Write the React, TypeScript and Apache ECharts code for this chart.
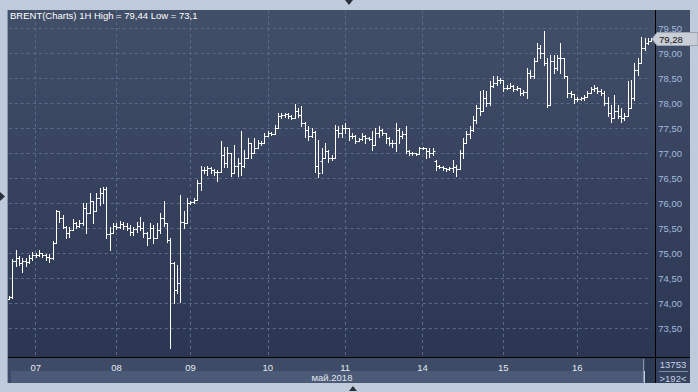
import React, { useEffect, useRef } from "react";
import * as echarts from "echarts";

// ---- data ----
const dayLabels = ["04", "07", "08", "09", "10", "11", "14", "15", "16"];
const barsPerDay = [8, 24, 22, 23, 23, 23, 24, 22, 23];

const opens = [
  74.08, 74.12, 74.85, 74.90, 74.80, 74.85, 74.82, 74.90,
  74.97, 74.95, 75.00, 74.96, 74.92, 74.90, 75.20, 75.84, 75.70, 75.52, 75.40, 75.45, 75.60, 75.55, 75.60, 75.90, 75.80, 76.05, 75.85, 76.10, 76.20, 76.28, 75.38, 75.40,
  75.55, 75.52, 75.58, 75.55, 75.50, 75.42, 75.48, 75.55, 75.50, 75.40, 75.30, 75.50, 75.30, 75.45, 75.70, 75.60, 75.26, 74.80, 74.26, 74.40, 75.62, 75.60,
  76.00, 76.02, 76.06, 76.40, 76.65, 76.65, 76.70, 76.65, 76.62, 76.62, 76.95, 76.80, 77.00, 76.60, 76.75, 76.80, 76.75, 76.90, 77.20, 77.00, 77.10, 77.20, 77.20,
  77.35, 77.40, 77.38, 77.50, 77.75, 77.76, 77.78, 77.75, 77.70, 77.85, 77.76, 77.60, 77.45, 77.35, 77.42, 76.75, 76.85, 76.90, 77.05, 76.90, 76.90, 77.45, 77.40,
  77.50, 77.50, 77.35, 77.35, 77.25, 77.28, 77.35, 77.30, 77.28, 77.15, 77.40, 77.45, 77.40, 77.30, 77.20, 77.20, 77.45, 77.35, 77.38, 77.05, 77.00, 77.00, 76.98,
  77.10, 77.10, 77.05, 77.00, 76.85, 76.75, 76.72, 76.70, 76.68, 76.70, 76.72, 76.68, 77.00, 77.20, 77.38, 77.45, 77.65, 77.90, 77.85, 78.10, 78.00, 78.35, 78.40, 78.45,
  78.45, 78.30, 78.30, 78.35, 78.28, 78.30, 78.20, 78.22, 78.60, 78.55, 78.85, 79.10, 79.00, 78.80, 77.95, 78.85, 78.70, 78.90, 78.90, 78.55, 78.20, 78.18,
  78.08, 78.08, 78.10, 78.12, 78.20, 78.28, 78.30, 78.25, 78.20, 78.00, 77.80, 77.70, 77.85, 77.75, 77.70, 77.75, 77.90, 78.10, 78.65, 78.80, 79.10, 79.20, 79.25,
];

const highs = [
  74.14, 74.87, 75.06, 74.93, 74.90, 74.90, 74.96, 75.02,
  75.00, 75.06, 75.00, 74.98, 74.98, 75.24, 75.86, 75.84, 75.76, 75.54, 75.52, 75.68, 75.62, 75.66, 76.00, 76.00, 76.20, 76.05, 76.20, 76.30, 76.32, 76.32, 75.52, 75.60,
  75.60, 75.64, 75.62, 75.60, 75.56, 75.52, 75.62, 75.72, 75.62, 75.42, 75.60, 75.56, 75.60, 75.80, 76.05, 75.60, 75.30, 74.82, 74.76, 76.16, 75.84, 76.10,
  76.03, 76.10, 76.46, 76.74, 76.72, 76.74, 76.72, 76.68, 76.66, 77.23, 77.12, 77.12, 77.00, 77.16, 76.90, 77.43, 77.06, 77.30, 77.20, 77.30, 77.26, 77.23, 77.40,
  77.43, 77.42, 77.56, 77.80, 77.80, 77.80, 77.80, 77.76, 77.98, 77.90, 77.93, 77.63, 77.53, 77.50, 77.43, 77.26, 77.10, 77.20, 77.06, 76.96, 77.56, 77.53, 77.56,
  77.60, 77.50, 77.40, 77.36, 77.30, 77.40, 77.36, 77.32, 77.43, 77.50, 77.53, 77.48, 77.40, 77.33, 77.26, 77.60, 77.50, 77.43, 77.53, 77.06, 77.02, 77.00, 77.13,
  77.12, 77.10, 77.10, 77.10, 76.86, 76.76, 76.74, 76.70, 76.72, 76.86, 76.76, 77.06, 77.30, 77.43, 77.53, 77.73, 77.96, 78.23, 78.26, 78.23, 78.43, 78.53, 78.53, 78.50,
  78.46, 78.36, 78.40, 78.36, 78.34, 78.30, 78.26, 78.70, 78.66, 78.90, 79.20, 79.16, 79.44, 78.90, 78.95, 78.96, 78.96, 79.20, 78.90, 78.55, 78.23, 78.18,
  78.13, 78.12, 78.16, 78.23, 78.33, 78.36, 78.32, 78.28, 78.23, 78.13, 77.96, 78.16, 77.96, 77.90, 77.80, 78.43, 78.46, 78.80, 78.90, 79.33, 79.30, 79.30, 79.30,
];

const lows = [
  74.08, 74.10, 74.73, 74.76, 74.62, 74.74, 74.80, 74.86,
  74.92, 74.94, 74.92, 74.86, 74.81, 74.88, 75.20, 75.62, 75.50, 75.30, 75.32, 75.45, 75.50, 75.52, 75.56, 75.40, 75.80, 75.60, 75.85, 75.96, 76.00, 75.30, 75.06, 75.40,
  75.48, 75.50, 75.48, 75.46, 75.36, 75.36, 75.42, 75.46, 75.32, 75.16, 75.30, 75.20, 75.30, 75.40, 75.53, 75.22, 73.10, 74.00, 74.20, 74.02, 75.50, 75.60,
  75.98, 76.00, 76.06, 76.26, 76.60, 76.56, 76.60, 76.56, 76.43, 76.62, 76.72, 76.72, 76.53, 76.60, 76.53, 76.56, 76.72, 76.90, 76.90, 77.00, 77.10, 77.16, 77.20,
  77.34, 77.36, 77.38, 77.50, 77.70, 77.72, 77.70, 77.68, 77.70, 77.72, 77.53, 77.33, 77.26, 77.33, 76.63, 76.52, 76.60, 76.90, 76.83, 76.86, 76.90, 77.33, 77.33,
  77.40, 77.26, 77.30, 77.20, 77.24, 77.26, 77.20, 77.26, 77.06, 77.15, 77.33, 77.36, 77.20, 77.16, 77.13, 77.03, 77.20, 77.30, 77.00, 76.95, 76.95, 76.95, 76.98,
  77.08, 76.90, 76.92, 76.96, 76.66, 76.70, 76.66, 76.64, 76.66, 76.63, 76.53, 76.68, 76.90, 77.20, 77.30, 77.43, 77.60, 77.76, 77.85, 77.93, 77.96, 78.33, 78.36, 78.40,
  78.23, 78.28, 78.30, 78.23, 78.26, 78.16, 78.16, 78.10, 78.50, 78.50, 78.85, 78.90, 78.76, 77.92, 77.95, 78.60, 78.65, 78.60, 78.50, 78.13, 78.13, 78.00,
  78.03, 78.06, 78.06, 78.12, 78.20, 78.23, 78.20, 78.16, 77.96, 77.73, 77.63, 77.70, 77.70, 77.63, 77.66, 77.75, 77.90, 78.06, 78.56, 78.80, 79.06, 79.18, 79.24,
];

const closes = [
  74.12, 74.85, 74.90, 74.80, 74.85, 74.82, 74.90, 74.97,
  74.95, 75.00, 74.96, 74.92, 74.90, 75.20, 75.84, 75.70, 75.52, 75.40, 75.45, 75.60, 75.55, 75.60, 75.90, 75.80, 76.05, 75.85, 76.10, 76.20, 76.28, 75.38, 75.40, 75.55,
  75.52, 75.58, 75.55, 75.50, 75.42, 75.48, 75.55, 75.50, 75.40, 75.30, 75.50, 75.30, 75.45, 75.70, 75.60, 75.26, 74.80, 74.26, 74.40, 75.62, 75.60, 76.00,
  76.02, 76.06, 76.40, 76.65, 76.65, 76.70, 76.65, 76.62, 76.62, 76.95, 76.80, 77.00, 76.60, 76.75, 76.80, 76.75, 76.90, 77.20, 77.00, 77.10, 77.20, 77.20, 77.35,
  77.40, 77.38, 77.50, 77.75, 77.76, 77.78, 77.75, 77.70, 77.85, 77.76, 77.60, 77.45, 77.35, 77.42, 76.75, 76.60, 76.90, 77.05, 76.90, 76.90, 77.45, 77.40, 77.50,
  77.50, 77.35, 77.35, 77.25, 77.28, 77.35, 77.30, 77.28, 77.15, 77.40, 77.45, 77.40, 77.30, 77.20, 77.20, 77.45, 77.35, 77.38, 77.05, 77.00, 77.00, 76.98, 77.10,
  77.10, 77.05, 77.00, 77.05, 76.75, 76.72, 76.70, 76.68, 76.70, 76.72, 76.68, 77.00, 77.20, 77.38, 77.45, 77.65, 77.90, 77.85, 78.10, 78.00, 78.35, 78.40, 78.45, 78.45,
  78.30, 78.30, 78.35, 78.28, 78.30, 78.20, 78.22, 78.60, 78.55, 78.85, 79.10, 79.00, 78.80, 77.95, 78.85, 78.70, 78.90, 78.90, 78.55, 78.20, 78.18, 78.08,
  78.08, 78.10, 78.12, 78.20, 78.28, 78.30, 78.25, 78.20, 78.00, 77.80, 77.70, 77.85, 77.75, 77.70, 77.75, 77.90, 78.10, 78.65, 78.80, 79.10, 79.20, 79.25, 79.28,
];

const yTickValues = [73.5, 74.0, 74.5, 75.0, 75.5, 76.0, 76.5, 77.0, 77.5, 78.0, 78.5, 79.0, 79.5];
const titleText = "BRENT(Charts) 1H High = 79,44 Low = 73,1";
const monthLabel = "май.2018";
const volumeLabel = "13753";
const countLabel = ">192<";

// ---- derived ----
const categories: string[] = [];
const dayStartIdx = new Set<number>();
dayLabels.forEach((d, di) => {
  for (let h = 0; h < barsPerDay[di]; h++) {
    if (h === 0 && categories.length > 0) dayStartIdx.add(categories.length);
    categories.push(d + " " + h);
  }
});
const ohlc = closes.map((c, i) => [i, opens[i], highs[i], lows[i], c]);
const lastClose = closes[closes.length - 1];
const fmt = (v: number) => v.toFixed(2).replace(".", ",");

const FONT = "'Liberation Sans', Arial, sans-serif";

export default function App() {
  const ref = useRef<HTMLDivElement>(null);
  useEffect(() => {
    if (!ref.current) return;
    const chart = echarts.init(ref.current, undefined, { renderer: "svg" });
    const option: any = {
      animation: false,
      backgroundColor: "#bfcbdb",
      grid: { left: 8.8, right: 46.7, top: 10, bottom: 35, containLabel: false },
      xAxis: {
        type: "category",
        data: categories,
        boundaryGap: false,
        axisLine: { show: false },
        axisTick: { show: false },
        axisLabel: {
          interval: (i: number) => dayStartIdx.has(i),
          formatter: (v: string) => v.split(" ")[0],
          color: "#e4e9f1",
          fontSize: 9.5,
          fontFamily: FONT,
          margin: 5,
          hideOverlap: false,
        },
        splitLine: {
          show: true,
          interval: (i: number) => dayStartIdx.has(i),
          lineStyle: { color: "#5b6a89", width: 1, type: [3, 3] },
        },
      },
      yAxis: {
        type: "value",
        position: "right",
        min: 72.92,
        max: 79.86,
        axisLine: { show: false },
        axisTick: { show: false, customValues: yTickValues },
        axisLabel: {
          customValues: yTickValues,
          formatter: (v: number) => fmt(v),
          color: "#a3bbdf",
          fontSize: 9.5,
          fontFamily: FONT,
          margin: 7,
          align: "left",
        },
        splitLine: { show: true, lineStyle: { color: "#5b6a89", width: 1, type: [3, 3] } },
      },
      series: [
        {
          type: "custom",
          data: ohlc,
          dimensions: ["i", "open", "high", "low", "close"],
          encode: { x: 0, y: [1, 2, 3, 4] },
          clip: false,
          renderItem: (params: any, api: any) => {
            const i = api.value(0);
            const pH = api.coord([i, api.value(2)]);
            const yL = api.coord([i, api.value(3)])[1];
            const yO = api.coord([i, api.value(1)])[1];
            const yC = api.coord([i, api.value(4)])[1];
            const px = Math.round(pH[0]) + 0.5;
            const style = { stroke: "#ffffff", lineWidth: 1, fill: null };
            const yo = Math.round(yO) + 0.5;
            const yc = Math.round(yC) + 0.5;
            return {
              type: "group",
              children: [
                { type: "line", shape: { x1: px, y1: Math.round(pH[1]), x2: px, y2: Math.round(yL) + 1 }, style },
                { type: "line", shape: { x1: px - 2, y1: yo, x2: px, y2: yo }, style },
                { type: "line", shape: { x1: px, y1: yc, x2: px + 2, y2: yc }, style },
              ],
            };
          },
        },
      ],
    };
    chart.setOption(option);
    const yPrice = chart.convertToPixel({ yAxisIndex: 0 }, lastClose) as number;
    const yp = Math.round(yPrice);
    chart.setOption({
      graphic: [
        {
          type: "rect", z: -100, silent: true,
          shape: { x: 8, y: 10, width: 682, height: 347 },
          style: {
            fill: new echarts.graphic.LinearGradient(0, 0, 0, 1, [
              { offset: 0, color: "#424f69" },
              { offset: 1, color: "#2b3652" },
            ]),
          },
        },
        { type: "rect", z: -100, silent: true, shape: { x: 8, y: 358, width: 647, height: 13 }, style: { fill: "#3d4b66" } },
        { type: "rect", z: -100, silent: true, shape: { x: 11, y: 371, width: 633, height: 12 }, style: { fill: "#4b5a77" } },
        { type: "rect", z: -100, silent: true, shape: { x: 8, y: 371, width: 3, height: 12 }, style: { fill: "#3d4b66" } },
        { type: "rect", z: -100, silent: true, shape: { x: 645, y: 358, width: 10, height: 25 }, style: { fill: "#2e3a53" } },
        { type: "line", z: 100, silent: true, shape: { x1: 643.5, y1: 359, x2: 643.5, y2: 382 }, style: { stroke: "#8794aa", lineWidth: 1 } },
        { type: "rect", z: -100, silent: true, shape: { x: 656, y: 358, width: 34, height: 25 }, style: { fill: "#33415c" } },
        { type: "line", z: 100, silent: true, shape: { x1: 8, y1: 357.5, x2: 690, y2: 357.5 }, style: { stroke: "#000000", lineWidth: 1 } },
        { type: "line", z: 100, silent: true, shape: { x1: 655.5, y1: 10, x2: 655.5, y2: 383 }, style: { stroke: "#000000", lineWidth: 1 } },
        { type: "line", z: 100, silent: true, shape: { x1: 7.5, y1: 10, x2: 7.5, y2: 383 }, style: { stroke: "#8a98ae", lineWidth: 1 } },
        { type: "line", z: 100, silent: true, shape: { x1: 659, y1: 371.5, x2: 688, y2: 371.5 }, style: { stroke: "#7d8aa0", lineWidth: 1 } },
        {
          type: "text", z: 100, silent: true, x: 673, y: 364.5,
          style: { text: volumeLabel, fill: "#c6d2e6", font: `9.5px ${FONT}`, textAlign: "center", textVerticalAlign: "middle" },
        },
        {
          type: "text", z: 100, silent: true, x: 673, y: 378,
          style: { text: countLabel, fill: "#c6d2e6", font: `9.5px ${FONT}`, textAlign: "center", textVerticalAlign: "middle" },
        },
        {
          type: "text", z: 100, silent: true, x: 332, y: 377.5,
          style: { text: monthLabel, fill: "#e0e6ef", font: `9.5px ${FONT}`, textAlign: "center", textVerticalAlign: "middle" },
        },
        {
          type: "text", z: 100, silent: true, x: 10, y: 15,
          style: { text: titleText, fill: "#ffffff", font: `9.5px ${FONT}`, textAlign: "left", textVerticalAlign: "middle" },
        },
        {
          type: "polygon", z: 100, silent: true,
          shape: { points: [[652, yp], [657, yp - 6.5], [698, yp - 6.5], [698, yp + 6.5], [657, yp + 6.5]] },
          style: { fill: "#c9ced6", stroke: "#9aa3b0", lineWidth: 1 },
        },
        {
          type: "text", z: 101, silent: true, x: 659, y: yp + 0.5,
          style: { text: fmt(lastClose), fill: "#111111", font: `9.5px ${FONT}`, textAlign: "left", textVerticalAlign: "middle" },
        },
        { type: "polygon", z: 100, silent: true, shape: { points: [[345, 0], [353, 0], [349, 5]] }, style: { fill: "#2a3038" } },
        { type: "polygon", z: 100, silent: true, shape: { points: [[0, 192], [0, 201], [5, 196.5]] }, style: { fill: "#2a3038" } },
        { type: "polygon", z: 100, silent: true, shape: { points: [[349, 391], [357, 391], [353, 386]] }, style: { fill: "#2a3038" } },
      ],
    });
    return () => chart.dispose();
  }, []);
  return (
    <div
      ref={ref}
      style={{ position: "absolute", left: 0, top: 0, width: 698, height: 392 }}
    />
  );
}
